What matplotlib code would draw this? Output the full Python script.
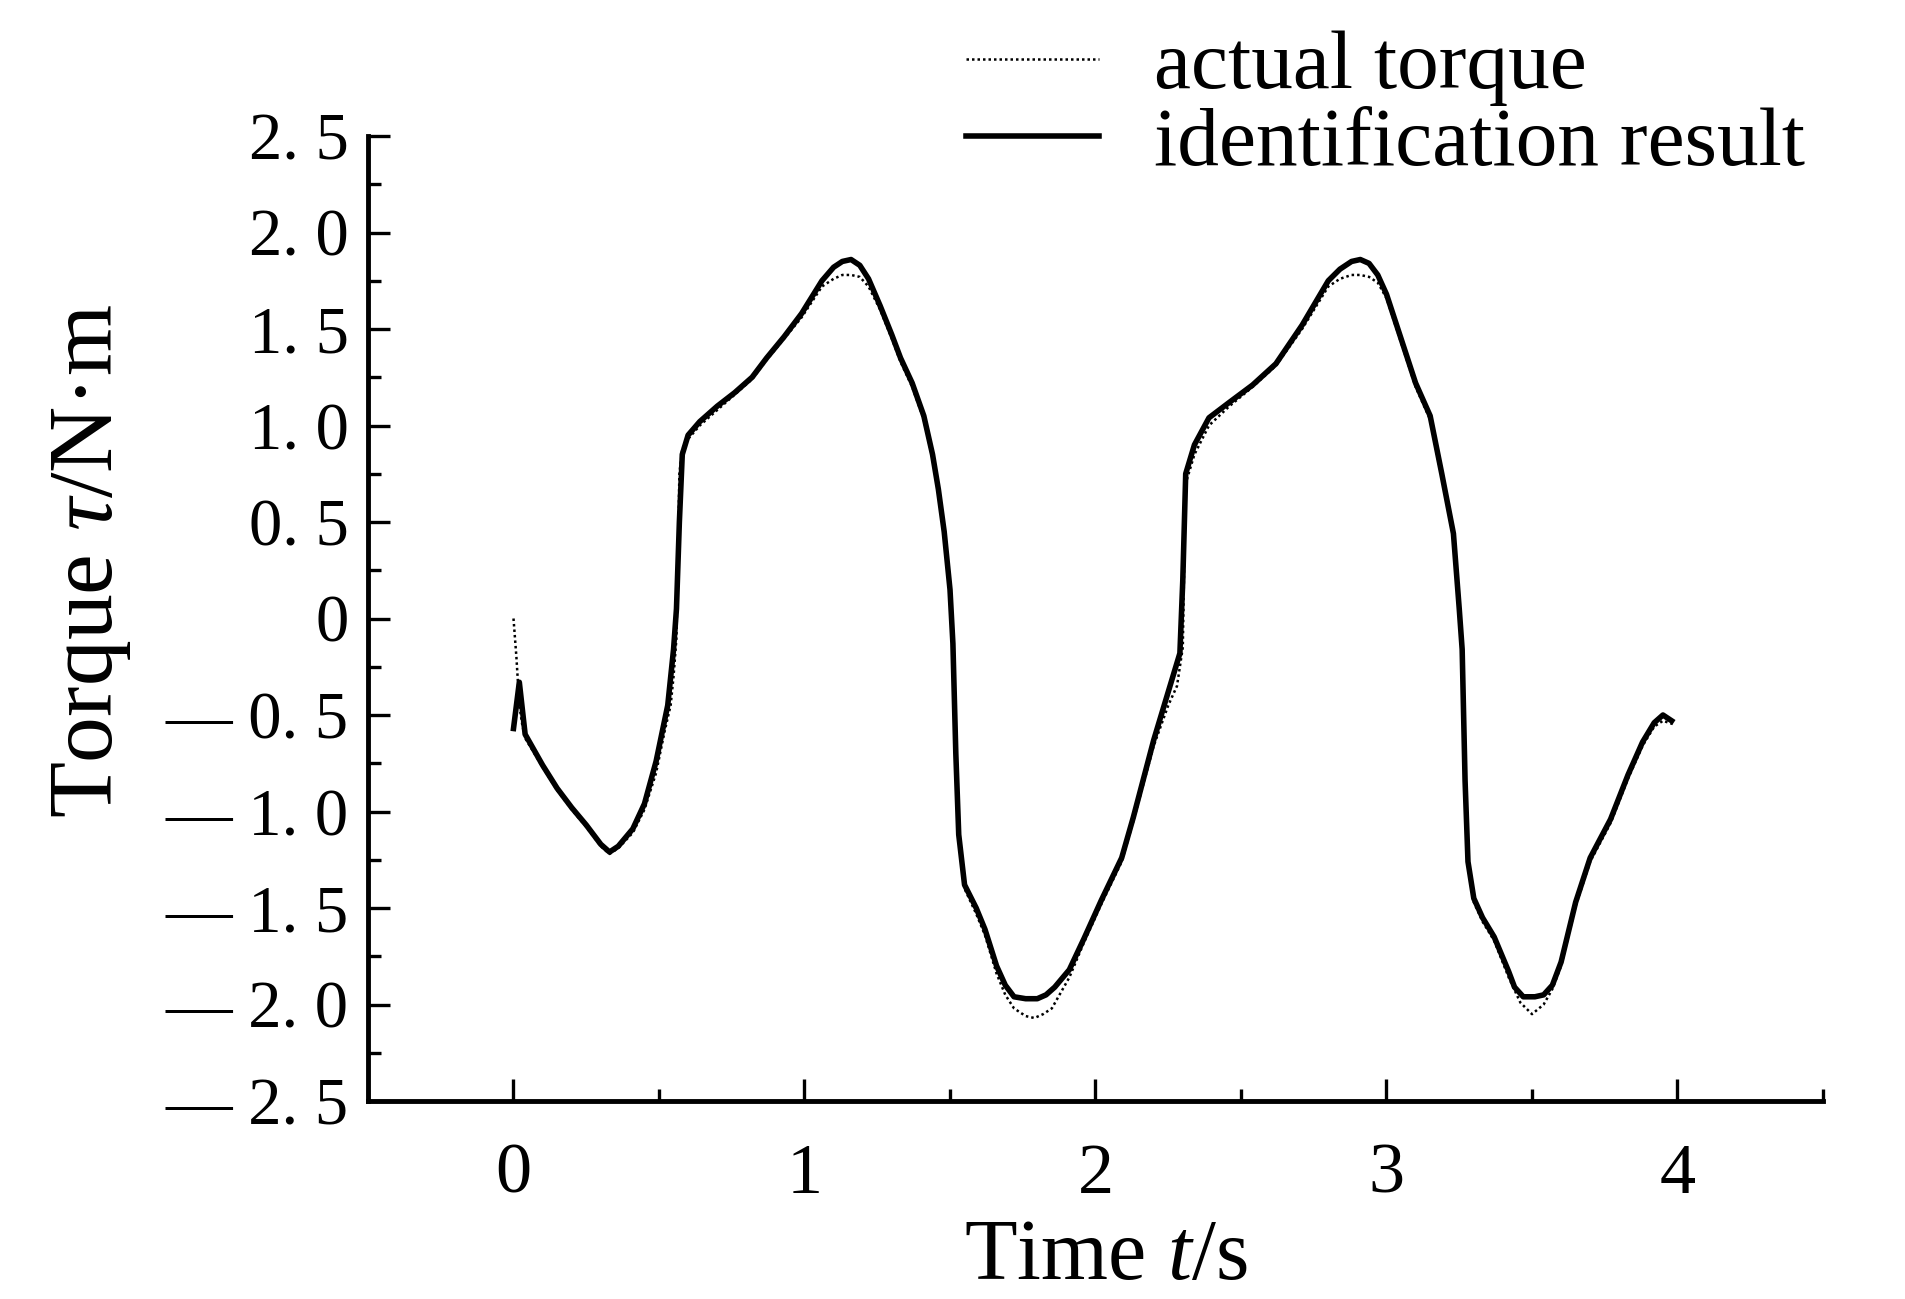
import numpy as np
import matplotlib
matplotlib.use('Agg')
import matplotlib.pyplot as plt

plt.rcParams['font.family'] = ['Liberation Serif', 'DejaVu Serif']
plt.rcParams['mathtext.fontset'] = 'custom'
plt.rcParams['mathtext.rm'] = 'Liberation Serif'
plt.rcParams['mathtext.it'] = 'Liberation Serif:italic'

# identification result (solid)
t_ident = [0.00, 0.02, 0.04, 0.10, 0.15, 0.20, 0.25, 0.30, 0.33, 0.36,
           0.41, 0.45, 0.49, 0.53, 0.55, 0.56, 0.57, 0.58, 0.60, 0.64,
           0.70, 0.76, 0.82, 0.87, 0.93, 0.99, 1.06, 1.10, 1.13, 1.16,
           1.19, 1.22, 1.26, 1.30, 1.33, 1.37, 1.41, 1.44, 1.46, 1.48,
           1.50, 1.51, 1.52, 1.53, 1.55, 1.59, 1.62, 1.66, 1.69, 1.72,
           1.76, 1.80, 1.83, 1.86, 1.91, 1.96, 2.02, 2.09, 2.13, 2.20,
           2.25, 2.29, 2.30, 2.31, 2.34, 2.39, 2.46, 2.54, 2.62, 2.71,
           2.80, 2.84, 2.88, 2.91, 2.94, 2.97, 3.00, 3.05, 3.10, 3.15,
           3.19, 3.23, 3.25, 3.26, 3.27, 3.28, 3.30, 3.33, 3.37, 3.42,
           3.44, 3.47, 3.51, 3.54, 3.57, 3.60, 3.65, 3.70, 3.77, 3.83,
           3.88, 3.92, 3.95, 3.98]
v_ident = [-0.57, -0.33, -0.60, -0.76, -0.88, -0.98, -1.07, -1.17, -1.21, -1.18,
           -1.09, -0.96, -0.74, -0.45, -0.16, 0.05, 0.50, 0.85, 0.95, 1.02,
           1.10, 1.17, 1.25, 1.35, 1.46, 1.58, 1.75, 1.82, 1.85, 1.86,
           1.83, 1.76, 1.62, 1.47, 1.35, 1.22, 1.05, 0.85, 0.67, 0.45,
           0.15, -0.13, -0.70, -1.12, -1.38, -1.50, -1.61, -1.80, -1.90, -1.96,
           -1.97, -1.97, -1.95, -1.91, -1.82, -1.66, -1.46, -1.24, -1.03, -0.63,
           -0.38, -0.18, 0.20, 0.75, 0.90, 1.04, 1.12, 1.21, 1.32, 1.52,
           1.75, 1.81, 1.85, 1.86, 1.84, 1.78, 1.68, 1.45, 1.22, 1.05,
           0.75, 0.44, 0.05, -0.16, -0.84, -1.26, -1.45, -1.55, -1.65, -1.83,
           -1.91, -1.96, -1.96, -1.95, -1.90, -1.78, -1.47, -1.24, -1.04, -0.81,
           -0.64, -0.54, -0.50, -0.53]

# actual torque (dotted)
t_actual = [0.00, 0.01, 0.02, 0.03, 0.04, 0.10, 0.15, 0.20, 0.25, 0.30,
            0.33, 0.36, 0.41, 0.45, 0.49, 0.52, 0.54, 0.55, 0.56, 0.565,
            0.57, 0.58, 0.60, 0.64, 0.70, 0.76, 0.82, 0.87, 0.93, 0.99,
            1.06, 1.10, 1.13, 1.16, 1.19, 1.22, 1.26, 1.30, 1.33, 1.37,
            1.41, 1.44, 1.46, 1.48, 1.50, 1.51, 1.52, 1.53, 1.55, 1.59,
            1.62, 1.66, 1.69, 1.72, 1.76, 1.79, 1.82, 1.85, 1.91, 1.96,
            2.02, 2.09, 2.13, 2.20, 2.25, 2.28, 2.30, 2.305, 2.31, 2.34,
            2.39, 2.46, 2.54, 2.62, 2.71, 2.80, 2.84, 2.88, 2.91, 2.94,
            2.97, 3.00, 3.05, 3.10, 3.15, 3.19, 3.23, 3.25, 3.26, 3.27,
            3.28, 3.30, 3.33, 3.37, 3.42, 3.46, 3.50, 3.54, 3.57, 3.60,
            3.65, 3.70, 3.77, 3.83, 3.88, 3.92, 3.95, 3.99]
v_actual = [0.00, -0.20, -0.45, -0.55, -0.62, -0.77, -0.89, -0.99, -1.08, -1.18,
            -1.22, -1.19, -1.11, -0.99, -0.80, -0.58, -0.45, -0.30, -0.10, 0.30,
            0.75, 0.88, 0.93, 1.00, 1.08, 1.16, 1.24, 1.34, 1.45, 1.56,
            1.72, 1.76, 1.78, 1.78, 1.77, 1.72, 1.60, 1.45, 1.33, 1.20,
            1.03, 0.83, 0.65, 0.43, 0.12, -0.15, -0.72, -1.14, -1.40, -1.53,
            -1.64, -1.84, -1.95, -2.02, -2.06, -2.07, -2.05, -2.02, -1.86, -1.68,
            -1.48, -1.26, -1.05, -0.66, -0.45, -0.35, -0.15, 0.30, 0.70, 0.85,
            1.00, 1.10, 1.20, 1.31, 1.50, 1.72, 1.76, 1.78, 1.78, 1.77,
            1.74, 1.66, 1.43, 1.20, 1.03, 0.73, 0.42, 0.03, -0.18, -0.86,
            -1.28, -1.47, -1.57, -1.67, -1.86, -1.99, -2.05, -2.00, -1.92, -1.80,
            -1.49, -1.26, -1.06, -0.83, -0.66, -0.56, -0.53, -0.55]

xticks = [0, 1, 2, 3, 4]
xtick_labels = ['0', '1', '2', '3', '4']
yticks = [2.5, 2.0, 1.5, 1.0, 0.5, 0, -0.5, -1.0, -1.5, -2.0, -2.5]
ytick_labels = ['2. 5', '2. 0', '1. 5', '1. 0', '0. 5', '0',
                '\u2014 0. 5', '\u2014 1. 0', '\u2014 1. 5', '\u2014 2. 0', '\u2014 2. 5']

fig = plt.figure(figsize=(19.06, 12.99), dpi=100)
ax = fig.add_axes([368/1906, 1-1101/1299, (1823-368)/1906, (1101-136)/1299])

ax.plot(t_actual, v_actual, color='black', linestyle=(0, (1, 1.2)), linewidth=1.8,
        label='actual torque')
ax.plot(t_ident, v_ident, color='black', linestyle='-', linewidth=4.0,
        label='identification result')

ax.set_xlim(-0.5, 4.5)
ax.set_ylim(-2.5, 2.5)

ax.spines['top'].set_visible(False)
ax.spines['right'].set_visible(False)
ax.spines['left'].set_linewidth(3.5)
ax.spines['bottom'].set_linewidth(3.5)

ax.set_xticks(xticks, labels=xtick_labels)
ax.set_yticks(yticks, labels=ytick_labels)
ax.set_xticks(np.arange(-0.5, 4.51, 0.5), minor=True)
ax.set_yticks(np.arange(-2.5, 2.51, 0.25), minor=True)
ax.tick_params(which='major', direction='in', length=16, width=2.4)
ax.tick_params(which='minor', direction='in', length=9, width=2.4)
ax.tick_params(axis='x', which='major', pad=30, labelsize=52)
ax.tick_params(axis='y', which='major', pad=14, labelsize=48)

ax.set_xlabel('Time $t$/s', fontsize=62, va='center')
ax.xaxis.set_label_coords(0.507, -0.163)
ax.set_ylabel('Torque $\\tau$/N\u00b7m', fontsize=66, va='center')
ax.yaxis.set_label_coords(-0.19, 0.56)

fig.legend(loc='upper left', bbox_to_anchor=(966/1906, 1-30/1299),
           frameon=False, fontsize=60, handlelength=1.6, handletextpad=0.66,
           labelspacing=0.0, borderpad=0, borderaxespad=0)

fig.savefig('out.png', dpi=100)
